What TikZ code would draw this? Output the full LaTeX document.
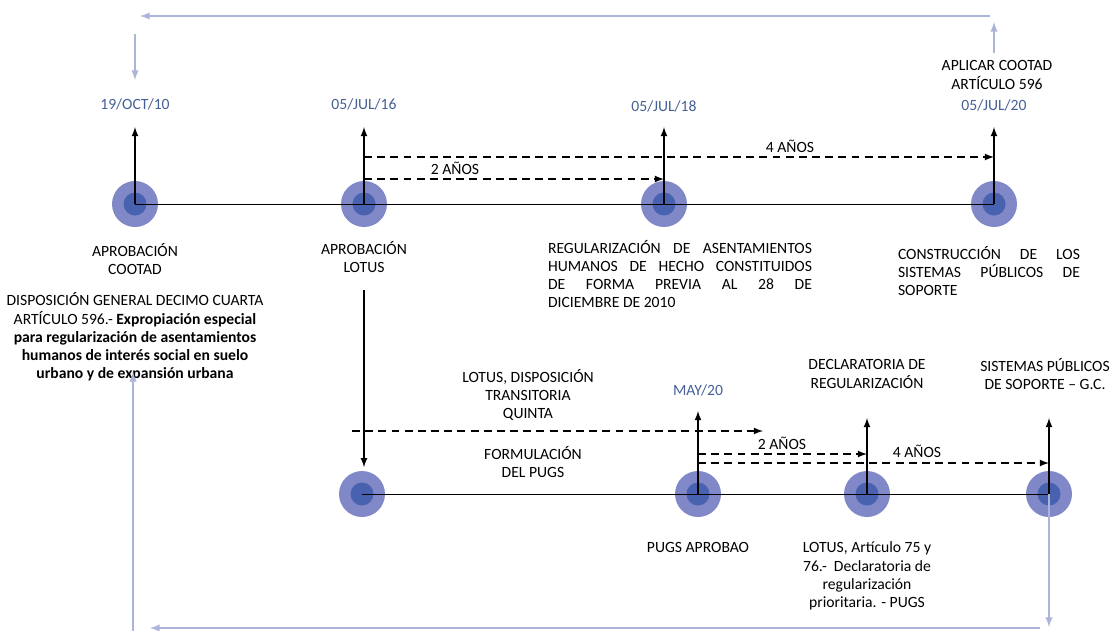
\documentclass[tikz,border=0pt]{standalone}
\usepackage{fontspec}
\setmainfont{Carlito}
\usetikzlibrary{arrows}

\definecolor{hitoclaro}{RGB}{128,136,200}
\definecolor{hitooscuro}{RGB}{72,98,176}
\definecolor{fechacol}{RGB}{70,96,150}
\definecolor{retornocol}{RGB}{172,180,216}

\tikzset{
  hito/.style={circle, fill=hitoclaro, minimum size=0.92cm, inner sep=0pt},
  nucleo/.style={circle, fill=hitooscuro, minimum size=0.46cm, inner sep=0pt},
  txt/.style={align=center, inner sep=0pt, font=\fontsize{8.9}{10.4}\selectfont},
  fecha/.style={txt, text=fechacol},
  flecha/.style={-latex, line width=0.8pt},
  plazo/.style={-latex, line width=0.8pt, dash pattern=on 4.5pt off 3pt},
  retorno/.style={-latex, draw=retornocol, line width=0.9pt},
}

\begin{document}
\begin{tikzpicture}[x=0.02cm, y=-0.02cm]
\useasboundingbox (0,0) rectangle (1112,630);

% linea de tiempo superior
\node[hito] (c1) at (135,204) {};
\node[hito] (c2) at (364,204) {};
\node[hito] (c3) at (664,204) {};
\node[hito] (c4) at (994,204) {};
\foreach \n in {c1,c2,c3,c4} \node[nucleo] at (\n) {};
\draw[line width=0.5pt] (c1.center) -- (c4.center);

\node[fecha] (f1) at (135,104) {19/OCT/10};
\node[fecha] (f2) at (364,104) {05/JUL/16};
\node[fecha] (f3) at (664,106) {05/JUL/18};
\node[fecha] (f4) at (994,105) {05/JUL/20};
\node[txt] (ap) at (997,75) {APLICAR COOTAD\\ARTÍCULO 596};

\coordinate (p1) at (135,127);
\coordinate (p2) at (364,127);
\coordinate (p3) at (664,127);
\coordinate (p4) at (994,127);
\draw[flecha] (c1.center) -- (p1);
\draw[flecha] (c2.center) -- (p2);
\draw[flecha] (c3.center) -- (p3);
\draw[flecha] (c4.center) -- (p4);

\coordinate (s1) at (364,157);
\coordinate (s2) at (364,179);
\draw[plazo] (s1) -- (s1 -| c4);
\draw[plazo] (s2) -- (s2 -| c3);
\node[txt] (a4) at (790,146) {4 AÑOS};
\node[txt] (a2) at (455,168) {2 AÑOS};

\node[txt] (n1) at (135,259) {APROBACIÓN\\COOTAD};
\node[txt] (n2) at (364,257) {APROBACIÓN\\LOTUS};
\node[txt, text width=5.28cm, align=justify] (n3) at (680,274)
  {REGULARIZACIÓN DE ASENTAMIENTOS\linebreak HUMANOS DE HECHO CONSTITUIDOS\linebreak DE FORMA PREVIA AL 28 DE\linebreak DICIEMBRE DE 2010};
\node[txt, text width=3.64cm, align=justify] (n4) at (989,271)
  {CONSTRUCCIÓN DE LOS\linebreak SISTEMAS PÚBLICOS DE\linebreak SOPORTE};
\node[txt] (n5) at (135,337) {DISPOSICIÓN GENERAL DECIMO CUARTA\\ARTÍCULO 596.- \textbf{Expropiación especial}\\\textbf{para regularización de asentamientos}\\\textbf{humanos de interés social en suelo}\\\textbf{urbano y de expansión urbana}};

% linea de tiempo inferior
\node[hito] (b1) at (362,494) {};
\node[hito] (b2) at (698,494) {};
\node[hito] (b3) at (867,494) {};
\node[hito] (b4) at (1049,494) {};
\foreach \n in {b1,b2,b3,b4} \node[nucleo] at (\n) {};
\draw[line width=0.5pt] (b1.center) -- (b4.center);

\coordinate (q) at (364,290);
\draw[flecha, shorten >=2pt] (q) -- (q |- b1.north);

\node[txt] (t1) at (528,395) {LOTUS, DISPOSICIÓN\\TRANSITORIA\\QUINTA};
\node[txt] (t2) at (533,462) {FORMULACIÓN\\DEL PUGS};
\coordinate (r1) at (352,431);
\coordinate (r2) at (763,431);
\draw[plazo] (r1) -- (r2);

\node[fecha] (m1) at (698,390) {MAY/20};
\node[txt] (d1) at (867,374) {DECLARATORIA DE\\REGULARIZACIÓN};
\node[txt] (d2) at (1045,374) {SISTEMAS PÚBLICOS\\DE SOPORTE -- G.C.};

\coordinate (v2) at (698,411);
\coordinate (v3) at (867,418);
\coordinate (v4) at (1049,418);
\draw[flecha] (b2.center) -- (v2);
\draw[flecha] (b3.center) -- (v3);
\draw[flecha] (b4.center) -- (v4);

\coordinate (u1) at (698,454);
\coordinate (u2) at (698,463);
\draw[plazo] (u1) -- (u1 -| b3);
\draw[plazo] (u2) -- (u2 -| b4);
\node[txt] (a5) at (782,443) {2 AÑOS};
\node[txt] (a6) at (917,451) {4 AÑOS};

\node[txt] (g1) at (698,547) {PUGS APROBAO};
\node[txt] (g2) at (867,576) {LOTUS, Artículo 75 y\\76.-\ \ Declaratoria de\\regularización\\prioritaria. - PUGS};

% flechas de retorno
\coordinate (w1) at (994,53);
\coordinate (w2) at (994,22);
\coordinate (w3) at (990,16);
\coordinate (w4) at (140,16);
\coordinate (w5) at (135,34);
\coordinate (w6) at (135,80);
\draw[retorno] (w1) -- (w2);
\draw[retorno] (w3) -- (w4);
\draw[retorno] (w5) -- (w6);

\coordinate (z1) at (1049,627);
\coordinate (z2) at (1040,628);
\coordinate (z3) at (150,628);
\coordinate (z4) at (133,640);
\coordinate (z5) at (133,372);
\draw[retorno] (b4.center) -- (z1);
\draw[retorno] (z2) -- (z3);
\draw[retorno] (z4) -- (z5);
\end{tikzpicture}
\end{document}
